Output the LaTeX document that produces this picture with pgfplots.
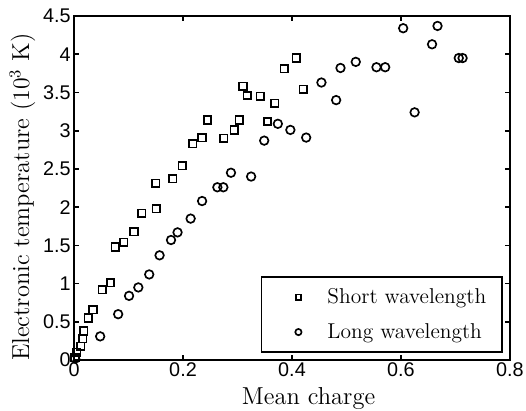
\documentclass[border=0pt]{standalone}
\usepackage{fontspec}
\setsansfont{Liberation Sans}
\usepackage{pgfplots}
\pgfplotsset{compat=1.18}
\begin{document}
\begin{tikzpicture}
\useasboundingbox (-44.85pt,-30.3pt) rectangle (273.9pt,218.2pt);
\begin{axis}[
  scale only axis,
  width=264.2pt, height=208.5pt,
  xmin=0, xmax=0.8, ymin=0, ymax=4.5,
  xtick={0,0.2,0.4,0.6,0.8},
  ytick={0,0.5,1,1.5,2,2.5,3,3.5,4,4.5},
  tick align=inside, tick pos=both,
  major tick length=3pt,
  axis line style={line width=1pt},
  every tick/.style={black, line width=1pt},
  /pgf/number format/assume math mode=true,
  tick label style={font=\fontsize{12}{14}\sffamily},
  xticklabel style={yshift=2pt},
  yticklabel style={xshift=1.5pt},
  xlabel={Mean charge},
  ylabel={Electronic temperature ($10^3$ K)},
  label style={font=\fontsize{14.85}{17}\selectfont},
  xlabel style={at={(axis description cs:0.538,-0.128)}, anchor=base},
  ylabel style={at={(axis description cs:-0.103,0.474)}, anchor=base, rotate=0},
  legend image code/.code={\path[draw=none] (0pt,-1pt) rectangle (30.4pt,1pt); \draw[#1] plot coordinates {(14.8pt,0pt)};},
  legend style={at={(rel axis cs:1,0)}, anchor=south east, xshift=-4.3pt, yshift=4.2pt,
    draw=black, line width=1pt, font=\fontsize{13}{15.6}\selectfont,
    cells={anchor=west}, row sep=6.5pt, inner xsep=7.6pt, inner ysep=5pt},
]
\addplot[only marks, mark=square, mark size=2.3pt, line width=1pt, black,
  legend image post style={mark size=1.6pt}]
coordinates {
(0.002,0.03) (0.005,0.10) (0.012,0.18) (0.016,0.28) (0.018,0.38)
(0.026,0.55) (0.035,0.66) (0.052,0.92) (0.067,1.01) (0.076,1.48)
(0.091,1.54) (0.110,1.68) (0.124,1.92) (0.151,1.98) (0.150,2.31)
(0.181,2.37) (0.199,2.54) (0.218,2.83) (0.235,2.91) (0.245,3.14)
(0.275,2.90) (0.294,3.01) (0.303,3.14) (0.310,3.58) (0.318,3.46)
(0.342,3.45) (0.355,3.12) (0.368,3.36) (0.386,3.81) (0.408,3.95)
(0.421,3.54)
};
\addlegendentry{Short wavelength}
\addplot[only marks, mark=o, mark size=2.6pt, line width=1pt, black,
  legend image post style={mark size=1.9pt}]
coordinates {
(0.002,0.02) (0.048,0.31) (0.081,0.60) (0.101,0.84) (0.118,0.95)
(0.138,1.12) (0.157,1.37) (0.178,1.57) (0.190,1.67) (0.214,1.85)
(0.235,2.08) (0.263,2.26) (0.274,2.26) (0.288,2.45) (0.325,2.40)
(0.349,2.87) (0.374,3.09) (0.397,3.01) (0.426,2.91) (0.454,3.63)
(0.481,3.40) (0.489,3.82) (0.517,3.90) (0.555,3.83) (0.571,3.83)
(0.604,4.34) (0.625,3.24) (0.657,4.13) (0.667,4.37) (0.706,3.95)
(0.713,3.95)
};
\addlegendentry{Long wavelength}
\end{axis}
\end{tikzpicture}
\end{document}
